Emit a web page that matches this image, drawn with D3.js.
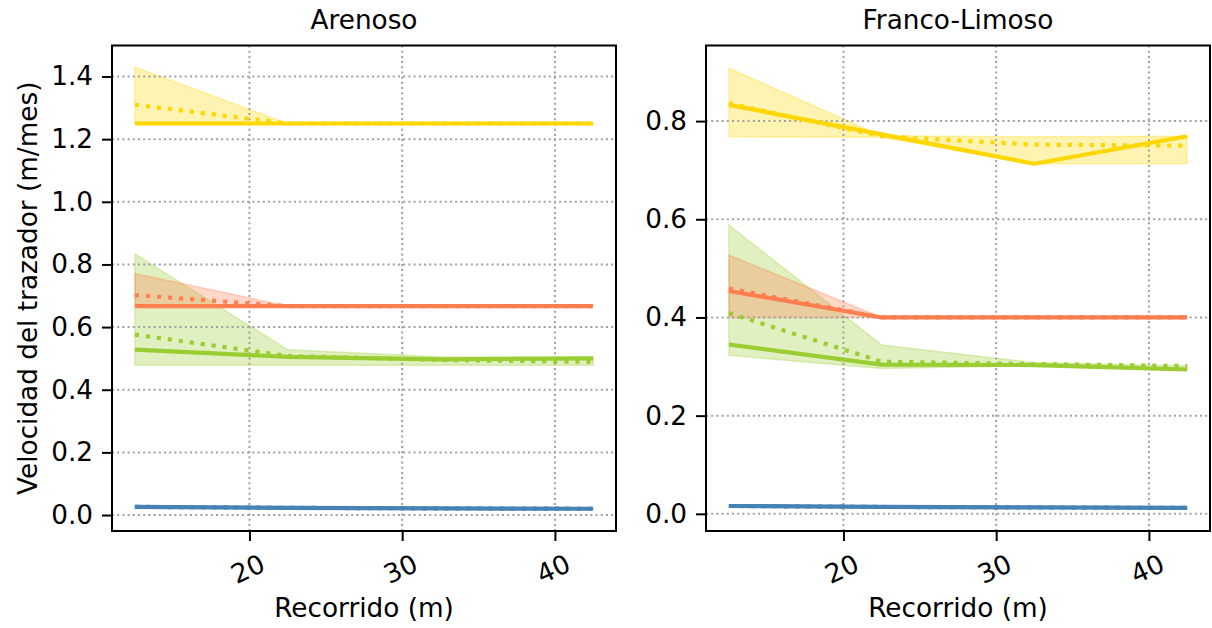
<!DOCTYPE html>
<html>
<head>
<meta charset="utf-8">
<script src="https://cdn.jsdelivr.net/npm/d3@7"></script>
<style>
  body { margin: 0; background: #fff; }
  svg { font-family: 'DejaVu Sans', sans-serif; }
</style>
</head>
<body>
<svg id="chart" width="1212" height="628"></svg>
<script>
// Recorrido (m) sample positions
const recorrido = [12.5, 22.5, 32.5, 42.5];
const xTicks = [20, 30, 40];
const panels = ['Arenoso', 'Franco-Limoso'];
const seriesColors = ['steelblue', 'yellowgreen', 'coral', 'gold'];

// Arenoso: solid line, dotted line, band low, band high (per series)
const arenosoSolid = [
    [0.026, 0.023, 0.021, 0.020],
    [0.528, 0.505, 0.497, 0.500],
    [0.667, 0.667, 0.667, 0.667],
    [1.250, 1.250, 1.250, 1.250]
];
const arenosoDotted = [
    [0.026, 0.023, 0.021, 0.020],
    [0.576, 0.508, 0.495, 0.489],
    [0.702, 0.667, 0.667, 0.667],
    [1.310, 1.250, 1.250, 1.250]
];
const arenosoLow = [
    [0.024, 0.022, 0.020, 0.019],
    [0.478, 0.478, 0.478, 0.478],
    [0.667, 0.667, 0.667, 0.667],
    [1.250, 1.250, 1.250, 1.250]
];
const arenosoHigh = [
    [0.028, 0.024, 0.022, 0.021],
    [0.833, 0.528, 0.505, 0.503],
    [0.771, 0.667, 0.667, 0.667],
    [1.430, 1.250, 1.250, 1.250]
];

// Franco-Limoso
const francoSolid = [
    [0.016, 0.014, 0.013, 0.012],
    [0.345, 0.304, 0.303, 0.294],
    [0.454, 0.400, 0.400, 0.400],
    [0.833, 0.773, 0.713, 0.769]
];
const francoDotted = [
    [0.016, 0.014, 0.013, 0.012],
    [0.409, 0.310, 0.305, 0.301],
    [0.459, 0.400, 0.400, 0.400],
    [0.836, 0.769, 0.752, 0.750]
];
const francoLow = [
    [0.015, 0.013, 0.012, 0.011],
    [0.323, 0.296, 0.302, 0.294],
    [0.400, 0.400, 0.400, 0.400],
    [0.768, 0.767, 0.713, 0.713]
];
const francoHigh = [
    [0.017, 0.015, 0.014, 0.013],
    [0.588, 0.344, 0.308, 0.301],
    [0.527, 0.400, 0.400, 0.400],
    [0.908, 0.770, 0.768, 0.769]
];

const yTicksArenoso = [0.0, 0.2, 0.4, 0.6, 0.8, 1.0, 1.2, 1.4];
const yTicksFranco = [0.0, 0.2, 0.4, 0.6, 0.8];

const svg = d3.select('#chart');
const fs = 26.3;

const layout = [
    {left: 112, right: 616, yDomain: [-0.051, 1.499], yTicks: yTicksArenoso,
     solid: arenosoSolid, dotted: arenosoDotted, low: arenosoLow, high: arenosoHigh},
    {left: 706, right: 1210, yDomain: [-0.035, 0.954], yTicks: yTicksFranco,
     solid: francoSolid, dotted: francoDotted, low: francoLow, high: francoHigh}
];
const plotTop = 45.5, plotBottom = 531;

layout.forEach((p, pi) => {
    const x = d3.scaleLinear().domain([11, 44]).range([p.left, p.right]);
    const y = d3.scaleLinear().domain(p.yDomain).range([plotBottom, plotTop]);
    const g = svg.append('g');

    // bands first (below grid)
    const area = d3.area()
        .x((d, i) => x(recorrido[i]))
        .y0(d => y(d[0]))
        .y1(d => y(d[1]));
    p.low.forEach((lo, si) => {
        g.append('path')
            .datum(lo.map((v, i) => [v, p.high[si][i]]))
            .attr('d', area)
            .attr('fill', seriesColors[si])
            .attr('fill-opacity', 0.3)
            .attr('stroke', seriesColors[si])
            .attr('stroke-opacity', 0.3)
            .attr('stroke-width', 1.5);
    });

    // grid
    g.append('g').selectAll('line').data(xTicks).join('line')
        .attr('x1', d => x(d)).attr('x2', d => x(d))
        .attr('y1', plotTop).attr('y2', plotBottom)
        .attr('stroke', '#a0a0a0').attr('stroke-width', 2)
        .attr('stroke-dasharray', '2,3.2');
    g.append('g').selectAll('line').data(p.yTicks).join('line')
        .attr('x1', p.left).attr('x2', p.right)
        .attr('y1', d => y(d)).attr('y2', d => y(d))
        .attr('stroke', '#a0a0a0').attr('stroke-width', 2)
        .attr('stroke-dasharray', '2,3.2');

    // lines
    const line = d3.line().x((d, i) => x(recorrido[i])).y(d => y(d));
    p.solid.forEach((vals, si) => {
        g.append('path').datum(p.dotted[si]).attr('d', line)
            .attr('fill', 'none').attr('stroke', seriesColors[si])
            .attr('stroke-width', 4.17).attr('stroke-dasharray', '4.17,6.88');
        g.append('path').datum(vals).attr('d', line)
            .attr('fill', 'none').attr('stroke', seriesColors[si])
            .attr('stroke-width', 4.17).attr('stroke-linejoin', 'round');
    });

    // frame
    g.append('rect')
        .attr('x', p.left).attr('y', plotTop)
        .attr('width', p.right - p.left).attr('height', plotBottom - plotTop)
        .attr('fill', 'none').attr('stroke', '#000').attr('stroke-width', 2);

    // x axis
    const xAxis = g.append('g')
        .attr('transform', `translate(0,${plotBottom})`)
        .call(d3.axisBottom(x).tickValues(xTicks).tickSize(10).tickPadding(9).tickFormat(d3.format('d')));
    xAxis.select('.domain').remove();
    xAxis.selectAll('.tick line').attr('stroke-width', 2);
    xAxis.selectAll('.tick text')
        .attr('font-size', fs).attr('font-family', 'DejaVu Sans')
        .attr('fill', '#000')
        .attr('y', 0).attr('dy', null)
        .attr('dominant-baseline', 'central')
        .attr('text-anchor', 'middle')
        .attr('transform', 'translate(-2,38) rotate(-25)');

    // y axis
    const yAxis = g.append('g')
        .attr('transform', `translate(${p.left},0)`)
        .call(d3.axisLeft(y).tickValues(p.yTicks).tickSize(10).tickPadding(9).tickFormat(d3.format('.1f')));
    yAxis.select('.domain').remove();
    yAxis.selectAll('.tick line').attr('stroke-width', 2);
    yAxis.selectAll('.tick text')
        .attr('font-size', fs).attr('font-family', 'DejaVu Sans').attr('fill', '#000');

    // title
    g.append('text')
        .attr('x', (p.left + p.right) / 2).attr('y', 29)
        .attr('text-anchor', 'middle')
        .attr('font-size', fs)
        .text(panels[pi]);

    // x label
    g.append('text')
        .attr('x', (p.left + p.right) / 2).attr('y', 617)
        .attr('text-anchor', 'middle')
        .attr('font-size', fs)
        .text('Recorrido (m)');
});

svg.append('text')
    .attr('transform', `translate(37,${(plotTop + plotBottom) / 2}) rotate(-90)`)
    .attr('text-anchor', 'middle')
    .attr('font-size', fs)
    .text('Velocidad del trazador (m/mes)');
</script>
</body>
</html>
